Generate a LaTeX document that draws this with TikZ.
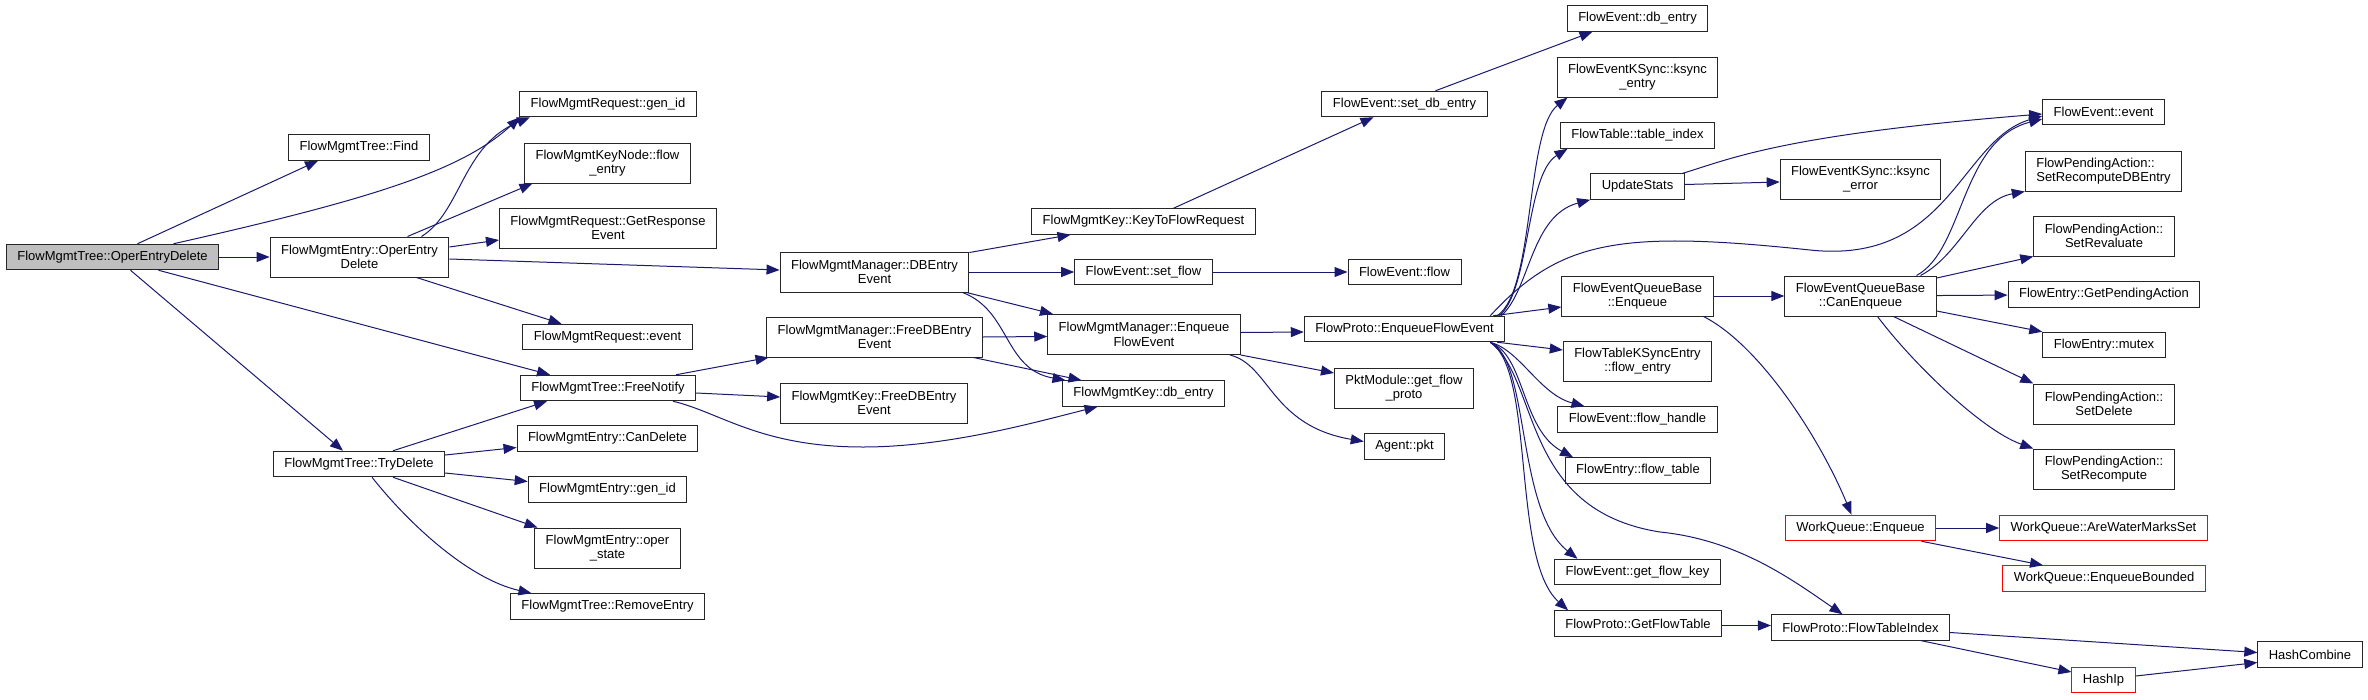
\documentclass[tikz,border=0pt]{standalone}
\usepackage{fontspec}
\setmainfont{Liberation Sans}
\usepackage{tikz}
\usetikzlibrary{arrows.meta}
\definecolor{callblue}{RGB}{25,25,112}

\begin{document}
\begin{tikzpicture}[
    x=1pt, y=-1pt,
    fn/.style={rectangle, draw=black!85, line width=1pt, fill=white, align=center, inner xsep=11pt, inner ysep=2pt, minimum height=25.5pt, font=\fontsize{13}{14.5}\selectfont},
    fntwo/.style={fn, minimum height=40pt},
    rootfn/.style={fn, fill=black!25},
    undoc/.style={fn, draw=red},
    call/.style={draw=callblue, line width=1pt, -{Triangle[length=13pt, width=10pt]}}
]
\useasboundingbox (0,0) rectangle (2368,699);

% Nodes
\node[rootfn] (root) at (112.5,257) {FlowMgmtTree::OperEntryDelete};

\node[fn] (find) at (359,147.5) {FlowMgmtTree::Find};
\node[fntwo] (entdel) at (359.5,257) {FlowMgmtEntry::OperEntry\\Delete};
\node[fn] (trydelete) at (359,464) {FlowMgmtTree::TryDelete};

\node[fn] (reqgenid) at (608,104) {FlowMgmtRequest::gen\_id};
\node[fntwo] (keynode) at (607.5,163) {FlowMgmtKeyNode::flow\\\_entry};
\node[fntwo] (getresp) at (608,228) {FlowMgmtRequest::GetResponse\\Event};
\node[fn] (reqevent) at (607.5,337) {FlowMgmtRequest::event};
\node[fn] (freenotify) at (608,388) {FlowMgmtTree::FreeNotify};
\node[fn] (candelete) at (607.5,438.5) {FlowMgmtEntry::CanDelete};
\node[fn] (entgenid) at (607.5,489.5) {FlowMgmtEntry::gen\_id};
\node[fntwo] (operstate) at (607.5,548) {FlowMgmtEntry::oper\\\_state};
\node[fn] (removeentry) at (607.5,606.5) {FlowMgmtTree::RemoveEntry};

\node[fntwo] (dbevent) at (874.5,272) {FlowMgmtManager::DBEntry\\Event};
\node[fntwo] (freedb) at (874.5,337) {FlowMgmtManager::FreeDBEntry\\Event};
\node[fntwo] (keyfreedb) at (874,403) {FlowMgmtKey::FreeDBEntry\\Event};

\node[fn] (keytoreq) at (1143.5,221.5) {FlowMgmtKey::KeyToFlowRequest};
\node[fn] (setflow) at (1143.5,272) {FlowEvent::set\_flow};
\node[fntwo] (mgrenq) at (1144,334.5) {FlowMgmtManager::Enqueue\\FlowEvent};
\node[fn] (keydb) at (1143.5,393.5) {FlowMgmtKey::db\_entry};

\node[fn] (setdb) at (1404.5,104) {FlowEvent::set\_db\_entry};
\node[fn] (evflow) at (1404.5,272) {FlowEvent::flow};
\node[fn] (protoenq) at (1404.5,329) {FlowProto::EnqueueFlowEvent};
\node[fntwo] (getproto) at (1404,388) {PktModule::get\_flow\\\_proto};
\node[fn] (agentpkt) at (1404.5,446.5) {Agent::pkt};

\node[fn] (evdb) at (1637.5,18.5) {FlowEvent::db\_entry};
\node[fntwo] (ksyncentry) at (1637.5,77) {FlowEventKSync::ksync\\\_entry};
\node[fn] (tableidx) at (1637.5,135.5) {FlowTable::table\_index};
\node[fn] (updstats) at (1637.5,186.5) {UpdateStats};
\node[fntwo] (qenq) at (1637.5,296) {FlowEventQueueBase\\::Enqueue};
\node[fntwo] (tblksync) at (1637.5,361) {FlowTableKSyncEntry\\::flow\_entry};
\node[fn] (flowhandle) at (1637.5,419.5) {FlowEvent::flow\_handle};
\node[fn] (flowtable) at (1638,470.5) {FlowEntry::flow\_table};
\node[fn] (getkey) at (1637.5,572) {FlowEvent::get\_flow\_key};
\node[fn] (getflowtbl) at (1638,623.5) {FlowProto::GetFlowTable};

\node[fntwo] (ksyncerr) at (1860.5,179) {FlowEventKSync::ksync\\\_error};
\node[fntwo] (canenq) at (1860.5,296) {FlowEventQueueBase\\::CanEnqueue};
\node[undoc] (wqenq) at (1860.5,528) {WorkQueue::Enqueue};
\node[fn] (tblindex) at (1860.5,627.5) {FlowProto::FlowTableIndex};

\node[fn] (event) at (2103.5,112) {FlowEvent::event};
\node[fntwo, align=left] (setrecdb) at (2103.5,171) {FlowPendingAction::\\SetRecomputeDBEntry};
\node[fntwo] (setreval) at (2104,236) {FlowPendingAction::\\SetRevaluate};
\node[fn] (getpending) at (2104,294.5) {FlowEntry::GetPendingAction};
\node[fn] (mutex) at (2104,345) {FlowEntry::mutex};
\node[fntwo] (setdelete) at (2104,404) {FlowPendingAction::\\SetDelete};
\node[fntwo] (setrecomp) at (2104,469) {FlowPendingAction::\\SetRecompute};
\node[undoc] (watermarks) at (2103.5,528) {WorkQueue::AreWaterMarksSet};
\node[undoc] (enqbounded) at (2104,578.5) {WorkQueue::EnqueueBounded};
\node[undoc] (haship) at (2103.5,680) {HashIp};

\node[fn] (hashcomb) at (2310,654.5) {HashCombine};

\coordinate (dip) at (863,447);
\coordinate (wave) at (1810,250);
\coordinate (bend) at (1660,532);

% Arrows
\draw[call] ([xshift=25pt]root.north) -- ([xshift=-41pt]find.south);
\draw[call] ([xshift=61pt]root.north) .. controls +(200,-45) and +(-58,53) .. ([xshift=-88pt]reqgenid.south);
\draw[call] (root) -- (entdel);
\draw[call] ([xshift=46pt]root.south) -- ([xshift=-58pt]freenotify.north);
\draw[call] ([xshift=18pt]root.south) -- ([xshift=-16pt]trydelete.north);

\draw[call] ([xshift=62pt]entdel.north) .. controls +(40,-25) and +(-68,28) .. ([xshift=-78pt]reqgenid.south);
\draw[call] ([xshift=48pt]entdel.north) -- ([xshift=-75pt]keynode.south);
\draw[call] ([yshift=10pt]entdel.east) -- ([yshift=-12pt]getresp.west);
\draw[call] ([yshift=-2pt]entdel.east) -- ([yshift=2pt]dbevent.west);
\draw[call] ([xshift=57pt]entdel.south) -- ([xshift=-46pt]reqevent.north);

\draw[call] ([xshift=34pt]trydelete.north) -- ([xshift=-61pt]freenotify.south);
\draw[call] ([yshift=9pt]trydelete.east) -- ([yshift=-9pt]candelete.west);
\draw[call] ([yshift=-9pt]trydelete.east) -- ([yshift=8pt]entgenid.west);
\draw[call] ([xshift=34pt]trydelete.south) -- ([xshift=-70pt]operstate.north);
\draw[call] ([xshift=13pt]trydelete.south) .. controls +(38,48) and +(-62,-14) .. ([xshift=-76pt]removeentry.north);

\draw[call] ([xshift=68pt]freenotify.north) -- ([xshift=-106pt]freedb.south);
\draw[call] ([yshift=-5pt]freenotify.east) -- ([yshift=6pt]keyfreedb.west);
\draw[call] ([xshift=65pt]freenotify.south) .. controls +(47,11) and +(-103,0) .. (dip) .. controls +(87,0) and +(-57,14) .. ([xshift=-46pt]keydb.south);

\draw[call] ([yshift=-1pt]dbevent.north east) -- ([xshift=-73pt]keytoreq.south);
\draw[call] (dbevent) -- (setflow);
\draw[call] ([xshift=-3pt]dbevent.south east) -- ([xshift=-91pt]mgrenq.north);
\draw[call] ([xshift=88pt]dbevent.south) .. controls +(48,18) and +(-62,-11) .. ([xshift=-78pt]keydb.north);
\draw[call] (freedb.east) -- ([yshift=-2pt]mgrenq.west);
\draw[call] ([xshift=99pt]freedb.south) -- ([xshift=-62pt]keydb.north);

\draw[call] ([xshift=30pt]keytoreq.north) -- ([xshift=-31pt]setdb.south);
\draw[call] ([xshift=31pt]setdb.north) -- ([xshift=-45pt]evdb.south);
\draw[call] (setflow) -- (evflow);
\draw[call] ([yshift=2pt]mgrenq.east) -- ([yshift=-3pt]protoenq.west);
\draw[call] (mgrenq.south east) -- ([yshift=15pt]getproto.west);
\draw[call] ([xshift=86pt]mgrenq.south) .. controls +(40,10) and +(-93,-16) .. ([yshift=5pt]agentpkt.west);

\draw[call] ([xshift=-8pt]protoenq.north east) .. controls +(38,-26) and +(-42,33) .. ([xshift=-70pt]ksyncentry.south);
\draw[call] ([xshift=-6pt]protoenq.north east) .. controls +(31,-26) and +(-42,26) .. ([xshift=-70pt]tableidx.south);
\draw[call] ([xshift=-4pt]protoenq.north east) .. controls +(29,-26) and +(-60,16) .. (updstats.south west);
\draw[call] ([xshift=-15pt]protoenq.north east) .. controls +(70,-76) and +(-190,-20) .. (wave) .. controls +(140,15) and +(-82,24) .. ([yshift=-4pt]event.west);
\draw[call] ([xshift=-12pt]protoenq.north east) -- ([yshift=-11pt]qenq.west);
\draw[call] ([xshift=-8pt]protoenq.south east) -- ([yshift=11pt]tblksync.west);
\draw[call] ([xshift=-15pt]protoenq.south east) .. controls +(30,8) and +(-45,-12) .. ([xshift=-53pt]flowhandle.north);
\draw[call] ([xshift=-15pt]protoenq.south east) .. controls +(35,13) and +(-52,-28) .. ([xshift=-65pt]flowtable.north);
\draw[call] ([xshift=-15pt]protoenq.south east) .. controls +(40,18) and +(-62,-49) .. ([xshift=-60pt]getkey.north);
\draw[call] ([xshift=-15pt]protoenq.south east) .. controls +(45,28) and +(-57,-51) .. ([xshift=-70pt]getflowtbl.north);
\draw[call] ([xshift=-15pt]protoenq.south east) .. controls +(50,38) and +(-140,-22) .. (bend) .. controls +(80,8) and +(-47,-32) .. ([xshift=-18pt]tblindex.north);

\draw[call] ([xshift=-2pt]updstats.north east) .. controls +(47,-14) and +(-262,21) .. ([yshift=-2pt]event.west);
\draw[call] ([yshift=2pt]updstats.east) -- ([yshift=-3pt]ksyncerr.west);

\draw[call] (qenq) -- (canenq);
\draw[call] ([xshift=66pt]qenq.south) .. controls +(57,29) and +(-31,-75) .. ([xshift=-9pt]wqenq.north);

\draw[call] ([xshift=56pt]canenq.north) .. controls +(48,-26) and +(-82,21) .. ([yshift=-7pt]event.west);
\draw[call] ([xshift=60pt]canenq.north) .. controls +(40,-21) and +(-49,9) .. (setrecdb.south west);
\draw[call] ([yshift=18pt]canenq.east) -- (setreval.south west);
\draw[call] (canenq) -- (getpending);
\draw[call] ([yshift=-15pt]canenq.east) -- (mutex.north west);
\draw[call] ([xshift=33pt]canenq.south) -- (setdelete.north west);
\draw[call] ([xshift=17pt]canenq.south) .. controls +(33,44) and +(-53,-19) .. (setrecomp.north west);

\draw[call] (wqenq) -- (watermarks);
\draw[call] ([xshift=61pt]wqenq.south) -- ([xshift=-61pt]enqbounded.north);
\draw[call] ([yshift=-2pt]getflowtbl.east) -- ([yshift=2pt]tblindex.west);
\draw[call] ([yshift=-5pt]tblindex.east) -- ([yshift=2pt]hashcomb.west);
\draw[call] ([xshift=61pt]tblindex.south) -- ([yshift=8pt]haship.west);
\draw[call] ([yshift=4pt]haship.east) -- ([yshift=-8pt]hashcomb.west);

\end{tikzpicture}
\end{document}
